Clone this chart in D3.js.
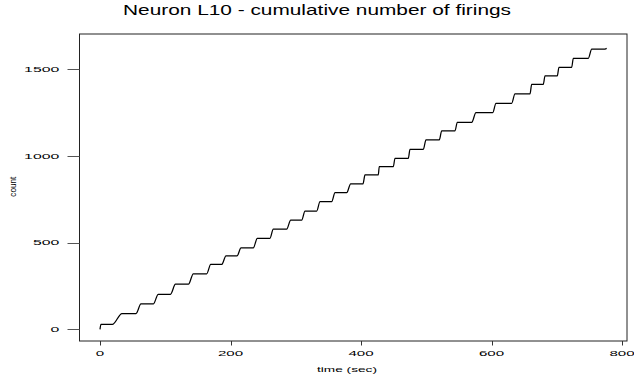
<!DOCTYPE html>
<html><head><meta charset="utf-8">
<script src="https://cdn.jsdelivr.net/npm/d3@7"></script>
<style>
html,body{margin:0;padding:0;background:#fff;}
svg{display:block;font-family:"Liberation Sans",Arial,sans-serif;}
</style></head>
<body>
<svg id="chart" width="634" height="376"></svg>
<script>
// ---- data ----
const title = "Neuron L10 - cumulative number of firings";
const xLabel = "time (sec)";
const yLabel = "count";
const xTicks = [0, 200, 400, 600, 800];
const yTicks = [0, 500, 1000, 1500];
// plateau levels of the cumulative count and where each plateau starts / ends (sec)
const stepCounts = [28, 91, 146, 202, 260, 320, 374, 423, 469, 525, 578, 630, 682, 736, 788, 839, 890, 938, 986, 1038, 1092, 1145, 1194, 1249, 1303, 1357, 1413, 1461, 1511, 1563, 1616];
const stepStart  = [1.5, 33.7, 62.8, 89.3, 115.7, 143.0, 169.7, 193.1, 216.1, 241.1, 265.6, 292.3, 314.2, 337.2, 360.2, 384.2, 406.1, 428.0, 452.1, 475.1, 499.6, 523.7, 547.6, 576.2, 606.9, 636.0, 661.6, 682.0, 703.4, 725.4, 753.6];
const stepEnd    = [18.9, 55.2, 81.7, 108.0, 135.6, 163.5, 186.5, 210.0, 234.9, 260.5, 286.1, 309.1, 332.1, 355.1, 378.1, 403.1, 426.5, 449.5, 472.5, 495.5, 520.0, 544.1, 569.7, 601.8, 630.9, 659.0, 679.4, 700.8, 722.9, 748.4, 773.9];
const firstPoint = [0, 0];
const lastPoint = [776.5, 1620];

// ---- layout ----
const box = {left: 79.5, right: 627, top: 34, bottom: 341};
const svg = d3.select("#chart");

const x = d3.scaleLinear().domain([0, 800]).range([100, 622]);
const y = d3.scaleLinear().domain([0, 1500]).range([329.3, 69.2]);

// build the curve points
const pts = [firstPoint];
stepCounts.forEach((c, i) => { pts.push([stepStart[i], c]); pts.push([stepEnd[i], c]); });
pts.push(lastPoint);

const line = d3.line().x(d => x(d[0])).y(d => y(d[1])).curve(d3.curveMonotoneX);

svg.append("path").datum(pts)
  .attr("d", line).attr("fill", "none").attr("stroke", "#000").attr("stroke-width", 1.25);

// box
svg.append("rect")
  .attr("x", box.left).attr("y", box.top)
  .attr("width", box.right - box.left).attr("height", box.bottom - box.top)
  .attr("fill", "none").attr("stroke", "#222").attr("stroke-width", 1);

// x axis ticks & labels
const xa = svg.append("g");
xa.selectAll("line").data(xTicks).join("line")
  .attr("x1", d => Math.round(x(d)) + 0.5).attr("x2", d => Math.round(x(d)) + 0.5)
  .attr("y1", box.bottom).attr("y2", box.bottom + 4.5)
  .attr("stroke", "#333").attr("stroke-width", 1);
xa.selectAll("text").data(xTicks).join("text")
  .attr("x", d => x(d)).attr("y", 356)
  .attr("text-anchor", "middle")
  .attr("font-size", 7.5)
  .attr("textLength", d => String(d).length * 8.4)
  .attr("lengthAdjust", "spacingAndGlyphs")
  .text(d => d);

// y axis ticks & labels
const ya = svg.append("g");
ya.selectAll("line").data(yTicks).join("line")
  .attr("x1", 67.5).attr("x2", box.left)
  .attr("y1", d => Math.round(y(d)) + 0.5).attr("y2", d => Math.round(y(d)) + 0.5)
  .attr("stroke", "#555").attr("stroke-width", 1);
ya.selectAll("text").data(yTicks).join("text")
  .attr("x", 59.3).attr("y", d => y(d) + 2.6)
  .attr("text-anchor", "end")
  .attr("font-size", 7.5)
  .attr("textLength", d => String(d).length * 8.8)
  .attr("lengthAdjust", "spacingAndGlyphs")
  .text(d => d);

// title
svg.append("text")
  .attr("x", 317).attr("y", 14.5)
  .attr("text-anchor", "middle")
  .attr("font-size", 14)
  .attr("textLength", 388)
  .attr("lengthAdjust", "spacingAndGlyphs")
  .text(title);

// axis titles
svg.append("text")
  .attr("x", 347).attr("y", 372)
  .attr("text-anchor", "middle")
  .attr("font-size", 7.5)
  .attr("textLength", 60)
  .attr("lengthAdjust", "spacingAndGlyphs")
  .text(xLabel);

svg.append("text")
  .attr("transform", "translate(15.5,186.7) rotate(-90)")
  .attr("text-anchor", "middle")
  .attr("font-size", 9)
  .attr("textLength", 20)
  .attr("lengthAdjust", "spacingAndGlyphs")
  .text(yLabel);
</script>
</body></html>
